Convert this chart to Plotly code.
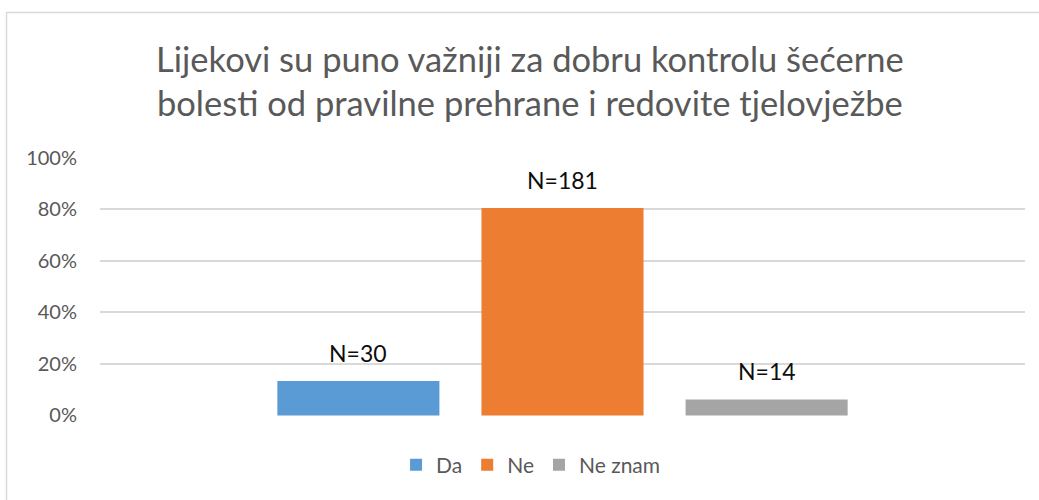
import plotly.graph_objects as go

series_names = ["Da", "Ne", "Ne znam"]
counts = [30, 181, 14]
colors = ["#5b9bd5", "#ed7d31", "#a5a5a5"]
category = [""]
y_ticks = [0, 0.2, 0.4, 0.6, 0.8, 1.0]
y_tick_labels = ["0%", "20%", "40%", "60%", "80%", "100%"]
title_text = "Lijekovi su puno važniji za dobru kontrolu šećerne<br>bolesti od pravilne prehrane i redovite tjelovježbe"

total = sum(counts)
shares = [c / total for c in counts]

FONT = "Lato"
bargap = 0.338
bargroupgap = 0.206

fig = go.Figure()
for name, s, col in zip(series_names, shares, colors):
    fig.add_trace(go.Bar(name=name, x=category, y=[s], marker=dict(color=col, line=dict(width=0)),
                         hoverinfo="skip"))

# data labels above bars
n = len(series_names)
slot = (1 - bargap) / n
for i, (c, s) in enumerate(zip(counts, shares)):
    xc = -0.5 * (1 - bargap) + slot * (i + 0.5)
    fig.add_annotation(x=xc, y=s, xref="x", yref="y", text=f"N={c}", showarrow=False,
                       yanchor="middle", yshift=28,
                       font=dict(family=FONT, size=23, color="#0d0d0d"))

W, H = 1039, 500
ml, mr, mt, mb = 100, 14, 157, 84
pw = W - ml - mr
ph = H - mt - mb
left_px, top_px = 6.5, 12.5
bx0 = (left_px - ml) / pw
by_top = 1 + (mt - top_px) / ph
fig.add_shape(type="path", xref="paper", yref="paper",
              path=f"M {bx0} -0.5 L {bx0} {by_top} L 1.2 {by_top}",
              line=dict(color="#d9d9d9", width=1.5))

fig.update_layout(
    width=W, height=H,
    margin=dict(l=ml, r=mr, t=mt, b=mb),
    paper_bgcolor="white", plot_bgcolor="white",
    barmode="group", bargap=bargap, bargroupgap=bargroupgap,
    title=dict(text=title_text, x=0.51, xanchor="center", xref="container", y=0.857, yanchor="middle",
               font=dict(family=FONT, size=34.5, color="#595959")),
    showlegend=True,
    legend=dict(orientation="h", x=0.466, xanchor="center", y=-0.19, yanchor="middle",
                font=dict(family=FONT, size=21, color="#595959"), traceorder="normal"),
    xaxis=dict(range=[-0.5, 0.5], showticklabels=False, showgrid=False, zeroline=False,
               showline=False, fixedrange=True),
    yaxis=dict(range=[-0.002, 1.002], tickvals=y_ticks, ticktext=y_tick_labels,
               showgrid=True, gridcolor="#d9d9d9", gridwidth=1.5, zeroline=False,
               showline=False, ticks="", ticklabelstandoff=22,
               tickfont=dict(family=FONT, size=20, color="#595959")),
)

fig.write_html("out.html", config={"displayModeBar": False},
               post_script="document.body.style.margin='0';")
